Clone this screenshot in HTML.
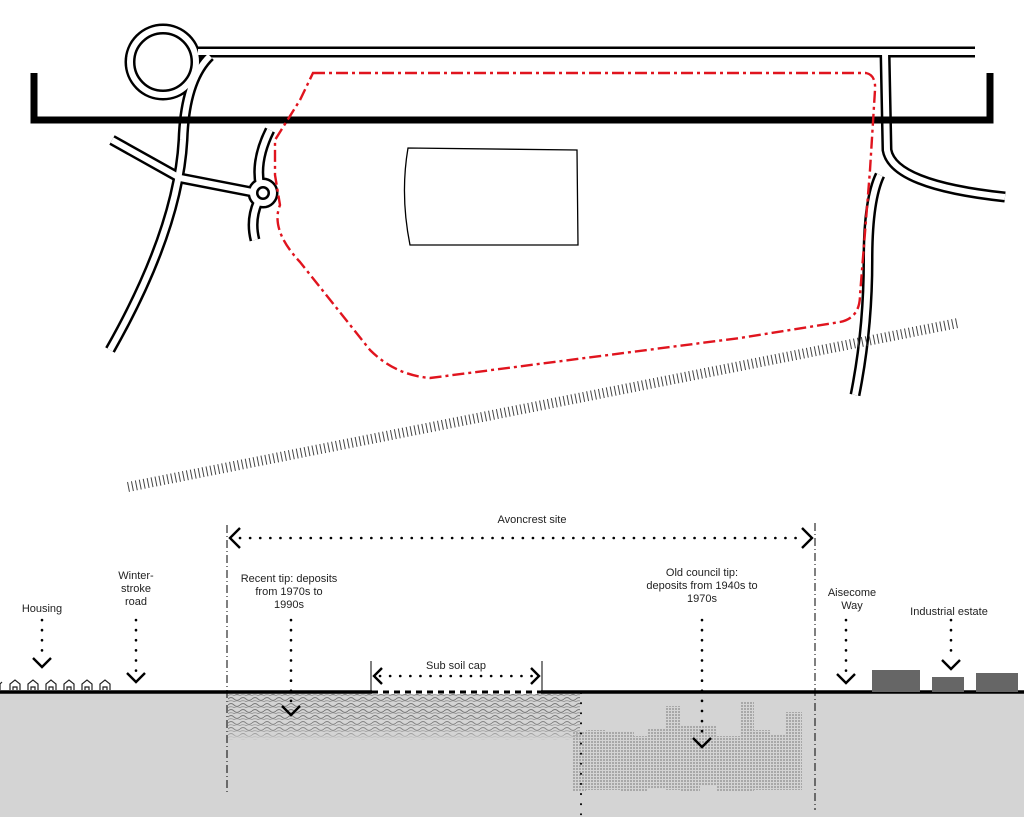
<!DOCTYPE html>
<html><head><meta charset="utf-8"><style>html,body{margin:0;padding:0;background:#fff}svg{display:block}text{font-family:"Liberation Sans",sans-serif;font-size:11px;fill:#222;text-anchor:middle}</style></head><body>
<svg width="1024" height="817" viewBox="0 0 1024 817" xmlns="http://www.w3.org/2000/svg">
<defs>
<pattern id="grid" width="3" height="3" patternUnits="userSpaceOnUse"><rect width="2" height="2" fill="#a8a8a8"/></pattern>
<pattern id="squig" width="12" height="6" patternUnits="userSpaceOnUse"><path d="M0 3 Q3 0 6 3 T12 3" fill="none" stroke="#777" stroke-width="0.9"/><path d="M0 5.5 Q3 4 6 5.5 T12 5.5" fill="none" stroke="#888" stroke-width="0.7"/></pattern>
<linearGradient id="fade" x1="0" y1="0" x2="0" y2="1"><stop offset="0" stop-color="#fff" stop-opacity="0"/><stop offset="0.6" stop-color="#d4d4d4" stop-opacity="0.2"/><stop offset="1" stop-color="#d4d4d4" stop-opacity="1"/></linearGradient>
</defs>
<g fill="none" stroke-linecap="butt">
<g stroke="#000" stroke-width="11">
<circle cx="163" cy="62" r="33"/>
<path d="M198 52 L975 52"/>
<path d="M885 52 L887 150 Q893 185 1005 197"/>
<path d="M210 56 Q185 80 183 140 Q178 230 110 350"/>
<path d="M112 140 L180 178 L252 192"/>
<path d="M270 130 Q255 160 260 185"/>
<path d="M258 202 Q250 220 255 240"/>
<path d="M880 175 Q868 200 868 260 Q868 330 855 395"/>
<circle cx="263" cy="193" r="10"/>
</g>
<g stroke="#fff" stroke-width="6">
<circle cx="163" cy="62" r="33"/>
<path d="M198 52 L975 52"/>
<path d="M885 52 L887 150 Q893 185 1005 197"/>
<path d="M210 56 Q185 80 183 140 Q178 230 110 350"/>
<path d="M112 140 L180 178 L252 192"/>
<path d="M270 130 Q255 160 260 185"/>
<path d="M258 202 Q250 220 255 240"/>
<path d="M880 175 Q868 200 868 260 Q868 330 855 395"/>
<circle cx="263" cy="193" r="10"/>
</g>
</g>
<path d="M34 73 V120 H990 V73" fill="none" stroke="#000" stroke-width="7"/>
<path d="M408 148 L577 150 L578 245 L410 245 Q400 195 408 148 Z" fill="none" stroke="#000" stroke-width="1.3"/>
<path d="M128 487 L958 323" stroke="#444" stroke-width="10" stroke-dasharray="1 3" fill="none"/>
<path d="M313 73 L866 73 Q876 75 875 90 L870 170 L860 295 Q860 318 840 322 L740 338 L430 378 Q395 375 370 350 L300 262 Q270 230 280 205 L275 175 L275 140 L300 100 Z" fill="none" stroke="#e0141e" stroke-width="2.4" stroke-dasharray="12 4 3 4"/>
<!-- section -->
<rect x="0" y="693" width="1024" height="124" fill="#d4d4d4"/>
<rect x="228" y="694" width="352" height="46" fill="url(#squig)"/>
<rect x="228" y="715" width="352" height="26" fill="url(#fade)"/>
<g fill="url(#grid)">
<rect x="572" y="732" width="14" height="60"/><rect x="586" y="730" width="20" height="60"/><rect x="606" y="732" width="14" height="58"/><rect x="620" y="732" width="14" height="60"/><rect x="634" y="736" width="14" height="56"/><rect x="648" y="728" width="18" height="60"/><rect x="666" y="706" width="14" height="84"/><rect x="680" y="726" width="20" height="66"/><rect x="700" y="726" width="16" height="60"/><rect x="716" y="736" width="24" height="56"/><rect x="740" y="702" width="14" height="90"/><rect x="754" y="730" width="16" height="60"/><rect x="770" y="734" width="16" height="56"/><rect x="786" y="712" width="16" height="78"/>
</g>
<line x1="0" y1="692" x2="1024" y2="692" stroke="#000" stroke-width="3.5"/>
<g fill="none" stroke="#222" stroke-width="1.2">
<path d="M10 690 v-6 l5-4 l5 4 v6 M13 690 v-3 h4 v3"/>
<path d="M28 690 v-6 l5-4 l5 4 v6 M31 690 v-3 h4 v3"/>
<path d="M46 690 v-6 l5-4 l5 4 v6 M49 690 v-3 h4 v3"/>
<path d="M64 690 v-6 l5-4 l5 4 v6 M67 690 v-3 h4 v3"/>
<path d="M82 690 v-6 l5-4 l5 4 v6 M85 690 v-3 h4 v3"/>
<path d="M100 690 v-6 l5-4 l5 4 v6 M103 690 v-3 h4 v3"/>
<path d="M0 690 v-6 l2-2"/>
</g>
<rect x="872" y="670" width="48" height="22" fill="#666"/>
<rect x="932" y="677" width="32" height="15" fill="#666"/>
<rect x="976" y="673" width="42" height="19" fill="#666"/>
<g stroke="#000" stroke-width="1" stroke-dasharray="8 3 1 3" fill="none">
<line x1="227" y1="525" x2="227" y2="795"/>
<line x1="815" y1="523" x2="815" y2="810"/>
</g>
<line x1="581" y1="693" x2="581" y2="817" stroke="#000" stroke-width="2" stroke-dasharray="0.1 10" stroke-linecap="round"/>
<g stroke="#000" stroke-width="2.6" stroke-dasharray="0.1 10" stroke-linecap="round" fill="none">
<line x1="240" y1="538" x2="805" y2="538"/>
<line x1="380" y1="676" x2="535" y2="676"/>
<line x1="42" y1="620" x2="42" y2="660"/>
<line x1="136" y1="620" x2="136" y2="675"/>
<line x1="291" y1="620" x2="291" y2="705"/>
<line x1="702" y1="620" x2="702" y2="740"/>
<line x1="846" y1="620" x2="846" y2="672"/>
<line x1="951" y1="620" x2="951" y2="660"/>
</g>
<g stroke="#000" stroke-width="2.4" fill="none">
<path d="M240 528 L230 538 L240 548"/>
<path d="M802 528 L812 538 L802 548"/>
<path d="M382 668 L374 676 L382 684"/><path d="M531 668 L539 676 L531 684"/>
<line x1="371" y1="661" x2="371" y2="692" stroke-width="1"/><line x1="542" y1="661" x2="542" y2="692" stroke-width="1"/>
<path d="M33 658 L42 667 L51 658"/>
<path d="M127 673 L136 682 L145 673"/>
<path d="M282 706 L291 715 L300 706"/>
<path d="M693 738 L702 747 L711 738"/>
<path d="M837 674 L846 683 L855 674"/>
<path d="M942 660 L951 669 L960 660"/>
</g>
<rect x="372" y="690" width="169" height="4" fill="#fff"/>
<line x1="372" y1="692" x2="541" y2="692" stroke="#000" stroke-width="3" stroke-dasharray="6 5"/>
<text x="532" y="523">Avoncrest site</text>
<text x="42" y="612">Housing</text>
<text x="136" y="579">Winter-</text><text x="136" y="592">stroke</text><text x="136" y="605">road</text>
<text x="289" y="582">Recent tip: deposits</text><text x="289" y="595">from 1970s to</text><text x="289" y="608">1990s</text>
<text x="394" y="669" text-anchor="middle" dx="62">Sub soil cap</text>
<text x="702" y="576">Old council tip:</text><text x="702" y="589">deposits from 1940s to</text><text x="702" y="602">1970s</text>
<text x="852" y="596">Aisecome</text><text x="852" y="609">Way</text>
<text x="949" y="615">Industrial estate</text>
</svg>
</body></html>
